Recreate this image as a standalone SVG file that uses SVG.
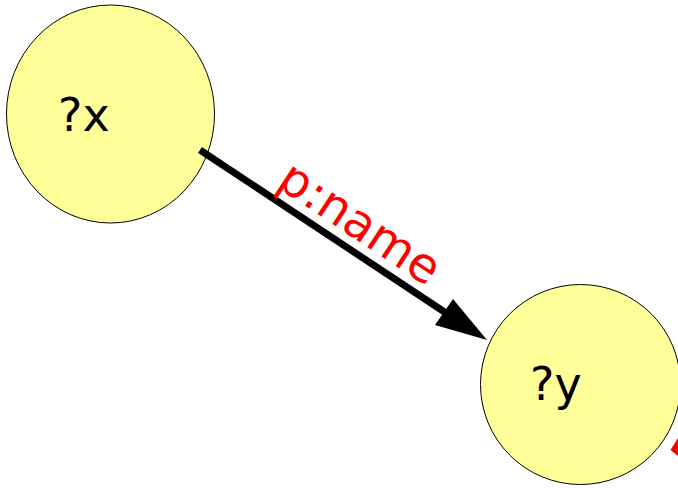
<svg xmlns="http://www.w3.org/2000/svg" width="678" height="488" viewBox="0 0 678 488">
  <style>
    .node { fill: #ffff99; stroke: #000000; stroke-width: 1; }
    .label { font-family: "DejaVu Sans", sans-serif; font-size: 46px; fill: #000000; }
    .edge { stroke: #000000; stroke-width: 7; fill: none; }
    .head { fill: #000000; stroke: none; }
    .edge-label { font-family: "DejaVu Sans", sans-serif; font-size: 48px; fill: #ff0000; }
  </style>
  <rect width="678" height="488" fill="#ffffff"/>
  <g id="node-x">
    <ellipse class="node" cx="110.5" cy="114" rx="104" ry="109"/>
    <text class="label" x="58" y="131">?x</text>
  </g>
  <g id="node-y">
    <circle class="node" cx="580.5" cy="384.5" r="100"/>
    <text class="label" x="530" y="400">?y</text>
  </g>
  <g id="connectors">
    <line class="edge" x1="200" y1="150" x2="446" y2="313"/>
    <polygon class="head" points="487,340 453,299 435,325"/>
    <text class="edge-label" transform="translate(275,186) rotate(33.5)">p:name</text>
    <polygon fill="#ff0000" points="670.5,450 678,438 678,456"/>
  </g>
</svg>
